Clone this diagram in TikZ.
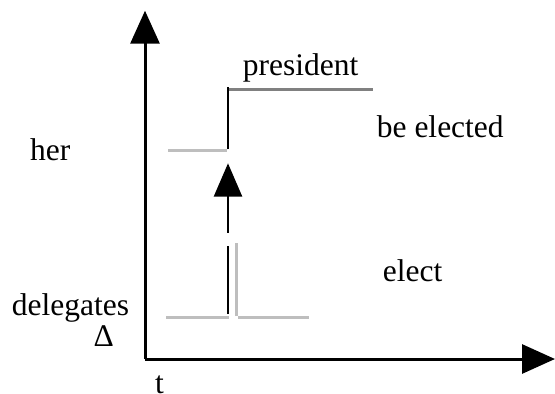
\documentclass[tikz,border=0pt]{standalone}
\usepackage{fontspec}
\setmainfont{Liberation Serif}
\usetikzlibrary{arrows.meta}
\definecolor{lightline}{RGB}{190,190,190}
\definecolor{darkline}{RGB}{128,128,128}
\begin{document}
\begin{tikzpicture}[x=1pt,y=-1pt,
  lbl/.style={anchor=base west,inner sep=0pt,font=\fontsize{31.5}{36}\selectfont},
  axisline/.style={line width=3pt,-{Triangle[length=33pt,width=29pt]}},
  blackseg/.style={line width=2.8pt,black},
  lightseg/.style={line width=2.5pt,lightline},
  darkseg/.style={line width=2.5pt,darkline}]
\useasboundingbox (0,0) rectangle (555,394);
\clip (0,0) rectangle (555,394);
% axes
\coordinate (O) at (145,359);
\coordinate (Ytip) at (145,10.7);
\coordinate (Xtip) at (555,359);
\draw[axisline] (O) -- (Ytip);
\draw[axisline] (O) -- (Xtip);
% coordinates of the states
\coordinate (herL) at (168,150.7);
\coordinate (herR) at (227,150.7);
\coordinate (presL) at (228,89.3);
\coordinate (presR) at (373,89.3);
\coordinate (jumpB) at (228,149.3);
\coordinate (jumpT) at (228,86.7);
\coordinate (delL) at (166,317.3);
\coordinate (delM) at (229.3,317.3);
\coordinate (elL) at (238.3,317.3);
\coordinate (elR) at (309.3,317.3);
\coordinate (segB) at (228,314);
\coordinate (segT) at (228,246);
\coordinate (grayB) at (236.7,316);
\coordinate (grayT) at (236.7,242.7);
\coordinate (arrB) at (228,232.7);
\coordinate (arrT) at (228,163.3);
% lines
\draw[lightseg] (herL) -- (herR);
\draw[darkseg] (presL) -- (presR);
\draw[blackseg] (jumpB) -- (jumpT);
\draw[lightseg] (delL) -- (delM);
\draw[lightseg] (elL) -- (elR);
\draw[lightseg] (grayB) -- (grayT);
\draw[blackseg] (segB) -- (segT);
\draw[line width=2.8pt,-{Triangle[length=33.4pt,width=28pt]}] (arrB) -- (arrT);
% labels
\node[lbl] (president) at (242.7,75) {president};
\node[lbl] (beelected) at (376.7,137.3) {be elected};
\node[lbl] (her) at (30,160) {her};
\node[lbl] (elect) at (382.7,281.7) {elect};
\node[lbl] (delegates) at (11.7,315) {delegates};
\node[lbl] (delta) at (93.3,346) {Δ};
\node[lbl] (t) at (155,393) {t};
\end{tikzpicture}
\end{document}
